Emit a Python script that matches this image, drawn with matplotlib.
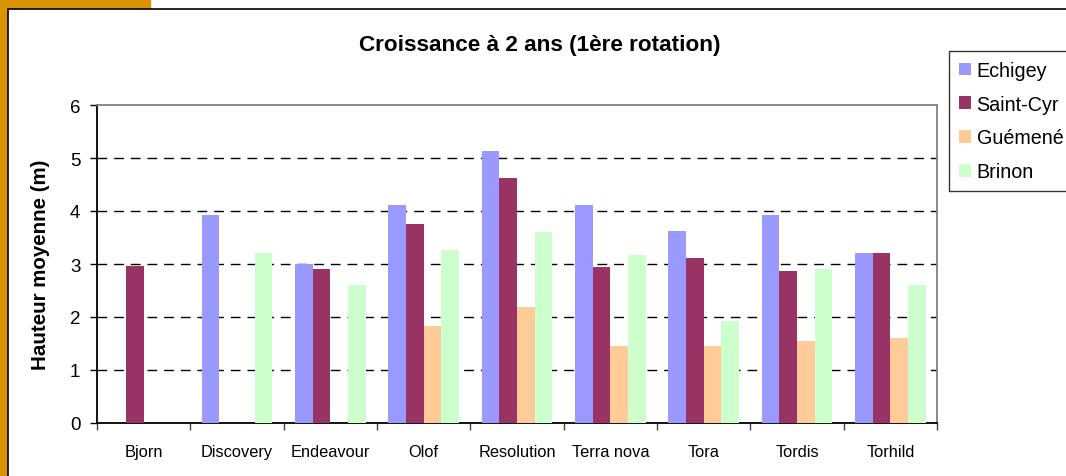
import matplotlib
matplotlib.use('Agg')
import matplotlib.pyplot as plt
from matplotlib.patches import Rectangle
import numpy as np

plt.rcParams['font.family'] = ['Liberation Sans', 'DejaVu Sans']

# data
categories = ['Bjorn', 'Discovery', 'Endeavour', 'Olof', 'Resolution',
              'Terra nova', 'Tora', 'Tordis', 'Torhild']
series = ['Echigey', 'Saint-Cyr', 'Guémené', 'Brinon']
echigey = [np.nan, 3.92, 3.00, 4.12, 5.13, 4.12, 3.62, 3.92, 3.20]
saint_cyr = [2.97, np.nan, 2.90, 3.76, 4.62, 2.94, 3.11, 2.87, 3.20]
guemene = [np.nan, np.nan, np.nan, 1.83, 2.19, 1.45, 1.45, 1.54, 1.60]
brinon = [np.nan, 3.20, 2.60, 3.26, 3.61, 3.17, 1.92, 2.90, 2.60]
colors = ['#9999FF', '#993366', '#FFCC99', '#CCFFCC']

W, H = 1066, 477
fig = plt.figure(figsize=(W / 100, H / 100), dpi=100)
fig.patch.set_facecolor('white')

# slide background peeking out at left / top
orange = '#D99200'
fig.add_artist(Rectangle((0, 0), 8 / W, 1, transform=fig.transFigure, color=orange, zorder=0))
fig.add_artist(Rectangle((0, 1 - 10 / H), 150 / W, 10 / H, transform=fig.transFigure, color=orange, zorder=0))
# chart area border
fig.add_artist(Rectangle((8 / W, -0.1), 1.2, 1 - 10 / H + 0.1, transform=fig.transFigure,
                         facecolor='white', edgecolor='black', lw=1.2, zorder=1))

ax = fig.add_axes([97 / W, 1 - 424 / H, (937 - 97) / W, (424 - 106) / H])
ax.set_zorder(2)

x = np.arange(len(categories))
w = 0.19
data = [echigey, saint_cyr, guemene, brinon]
for j, (vals, c, name) in enumerate(zip(data, colors, series)):
    ax.bar(x + (j - 1.5) * w, vals, width=w, color=c, label=name, zorder=3)

ax.set_xlim(-0.5, len(categories) - 0.5)
ax.set_ylim(0, 6)
ax.set_yticks(range(0, 7))
ax.tick_params(axis='y', labelsize=13.5, length=5, width=1, direction='out', pad=7)
ax.set_xticks(x)
ax.set_xticklabels(categories, fontsize=11.8)
ax.tick_params(axis='x', which='major', length=0, pad=15)
ax.set_xticks(np.arange(-0.5, len(categories)), minor=True)
ax.tick_params(axis='x', which='minor', length=5, width=1, direction='out', color='#444444')

for yv in range(1, 6):
    ax.axhline(yv, color='black', lw=1, dashes=(7, 5), zorder=1)

for s in ['top', 'right']:
    ax.spines[s].set_color('#808080')
    ax.spines[s].set_linewidth(1.3)
for s in ['left', 'bottom']:
    ax.spines[s].set_color('black')
    ax.spines[s].set_linewidth(1.3)

ax.set_ylabel('Hauteur moyenne (m)', fontsize=14.8, fontweight='bold', labelpad=14)
fig.text(540 / W, 1 - 45 / H, 'Croissance à 2 ans (1ère rotation)', ha='center', va='center',
         fontsize=16.2, fontweight='bold', zorder=3)

leg = fig.legend(loc='upper left', bbox_to_anchor=(949 / W, 1 - 52 / H), fontsize=14.2,
                 frameon=True, fancybox=False, edgecolor='black', handlelength=0.6,
                 handleheight=0.6, handletextpad=0.3, labelspacing=0.75, borderpad=0.5,
                 borderaxespad=0)
leg.get_frame().set_linewidth(1)
leg.set_zorder(4)

fig.savefig('out.png', dpi=100)
